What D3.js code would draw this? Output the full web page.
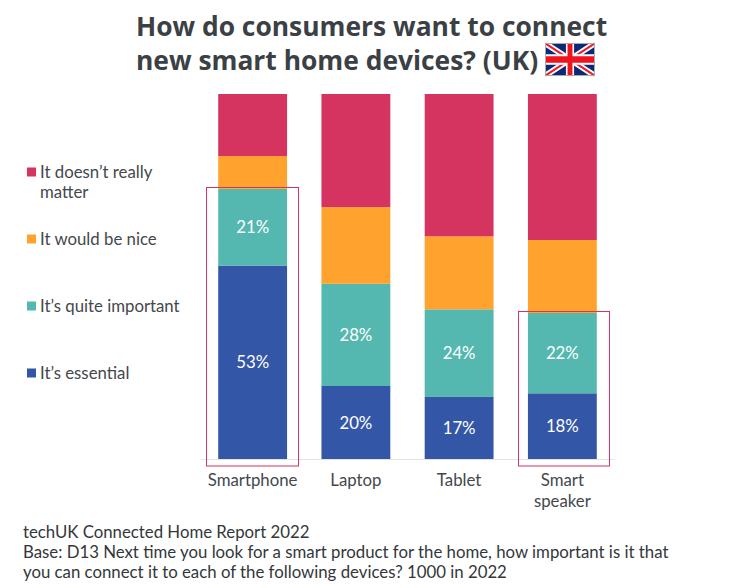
<!DOCTYPE html>
<html>
<meta charset="utf-8">
<style>
html, body { margin: 0; padding: 0; background: #fff; }
svg { display: block; }
text { font-family: Lato, sans-serif; }
.title { font-family: "Open Sans", sans-serif; font-weight: 700; font-size: 26.4px; fill: #3b4045; }
.axis-label, .legend-label { font-size: 16.8px; fill: #44484c; }
.value { font-size: 16.8px; fill: #fff; text-anchor: middle; }
.note { font-size: 16.8px; fill: #33373a; }
</style>
<body>
<script src="https://d3js.org/d3.v7.min.js"></script>
<script>
// values (percent)
var devices = ["Smartphone", "Laptop", "Tablet", "Smart speaker"];
var essential = [53, 20, 17, 18];
var quite = [21, 28, 24, 22];
var nice = [9, 21, 20, 20];
var noMatter = [17, 31, 39, 40];

var seriesNames = ["essential", "quite", "nice", "noMatter"];
var seriesLabels = [["It\u2019s essential"], ["It\u2019s quite important"], ["It would be nice"], ["It doesn\u2019t really", "matter"]];
var seriesColors = ["#3357a6", "#55b8b0", "#ffa32e", "#d53461"];
var highlighted = ["Smartphone", "Smart speaker"];
var titleLines = ["How do consumers want to connect", "new smart home devices? (UK)"];
var noteLines = ["techUK Connected Home Report 2022",
  "Base: D13 Next time you look for a smart product for the home, how important is it that",
  "you can connect it to each of the following devices? 1000 in 2022"];

var table = devices.map(function(d, i) {
  return {device: d, essential: essential[i], quite: quite[i], nice: nice[i], noMatter: noMatter[i]};
});

var svg = d3.select("body").append("svg").attr("width", 756).attr("height", 588);

// scales
var x = d3.scaleBand().domain(devices).range([201, 614]).paddingInner(0.333).paddingOuter(0.1667);
var y = d3.scaleLinear().domain([0, 100]).range([459, 94]);
var color = d3.scaleOrdinal().domain(seriesNames).range(seriesColors);
var stacked = d3.stack().keys(seriesNames)(table);

// title
svg.selectAll(".title").data(titleLines).enter().append("text")
  .attr("class", "title")
  .attr("x", 136)
  .attr("y", function(d, i) { return 36 + i * 33.5; })
  .text(function(d) { return d; });

// bars
var layers = svg.selectAll(".layer").data(stacked).enter().append("g")
  .attr("class", "layer")
  .attr("fill", function(d) { return color(d.key); });

layers.selectAll("rect").data(function(d) { return d; }).enter().append("rect")
  .attr("x", function(d) { return x(d.data.device); })
  .attr("width", x.bandwidth())
  .attr("y", function(d) { return y(d[1]); })
  .attr("height", function(d) { return y(d[0]) - y(d[1]); });

// only the two lower series carry labels
stacked.slice(0, 2).forEach(function(s) {
  svg.selectAll(".value-" + s.key).data(s).enter().append("text")
    .attr("class", "value value-" + s.key)
    .attr("x", function(d) { return x(d.data.device) + x.bandwidth() / 2; })
    .attr("y", function(d) { return (y(d[0]) + y(d[1])) / 2 + 6; })
    .text(function(d) { return (d[1] - d[0]) + "%"; });
});

// baseline
svg.append("line")
  .attr("x1", 201).attr("x2", 614)
  .attr("y1", y(0) + 0.5).attr("y2", y(0) + 0.5)
  .attr("stroke", "#e2e2e2");

// x labels
var labels = svg.selectAll(".axis-label").data(devices).enter().append("text")
  .attr("class", "axis-label")
  .attr("text-anchor", "middle")
  .attr("y", 486);
labels.each(function(d) {
  var words = d === "Smart speaker" ? d.split(" ") : [d];
  var t = d3.select(this);
  words.forEach(function(w, i) {
    t.append("tspan")
      .attr("x", x(d) + x.bandwidth() / 2)
      .attr("dy", i ? 21 : 0)
      .text(w);
  });
});

// red boxes round the highlighted devices, the two are not quite the same width
var boxPad = {"Smartphone": [11.5, 11.5], "Smart speaker": [9.5, 12.5]};
svg.selectAll(".hl").data(highlighted).enter().append("rect")
  .attr("class", "hl")
  .attr("x", function(d) { return Math.round(x(d)) - boxPad[d][0]; })
  .attr("width", function(d) { return Math.round(x.bandwidth()) + boxPad[d][0] + boxPad[d][1]; })
  .attr("y", function(d) {
    var i = devices.indexOf(d);
    return Math.round(y(essential[i] + quite[i])) - 1.5;
  })
  .attr("height", function(d) {
    var i = devices.indexOf(d);
    return 466 - Math.round(y(essential[i] + quite[i])) + 1.5;
  })
  .attr("fill", "none")
  .attr("stroke", "#d53461")
  .attr("stroke-width", 1);

// legend, top entry is the last series
var legendY = d3.scalePoint().domain(seriesNames.slice().reverse()).range([172, 373]);
var legend = svg.selectAll(".legend").data(seriesNames).enter().append("g")
  .attr("class", "legend")
  .attr("transform", function(d) { return "translate(27," + legendY(d) + ")"; });
legend.append("rect")
  .attr("y", -4.5).attr("width", 9).attr("height", 9)
  .attr("fill", function(d) { return color(d); });
legend.each(function(d, i) {
  var g = d3.select(this);
  seriesLabels[i].forEach(function(line, j) {
    g.append("text")
      .attr("class", "legend-label")
      .attr("x", 13)
      .attr("y", 6 + j * 20)
      .text(line);
  });
});

// footnote
svg.selectAll(".note").data(noteLines).enter().append("text")
  .attr("class", "note")
  .attr("x", 23)
  .attr("y", function(d, i) { return 538 + i * 20; })
  .text(function(d) { return d; });

// union flag, drawn in a 60x30 box and scaled
var flag = svg.append("g").attr("transform", "translate(545.5,43.5)");
var inner = flag.append("g").attr("transform", "scale(" + (49 / 60) + "," + (32 / 30) + ")");
inner.append("rect").attr("width", 60).attr("height", 30).attr("fill", "#0a2a78");
var diag = ["M0,0L60,30", "M60,0L0,30"];
inner.selectAll(".dw").data(diag).enter().append("path").attr("d", function(d) { return d; })
  .attr("stroke", "#fff").attr("stroke-width", 6);
inner.selectAll(".dr").data(diag).enter().append("path").attr("d", function(d) { return d; })
  .attr("stroke", "#ee1c25").attr("stroke-width", 2);
inner.append("path").attr("d", "M30,0V30M0,15H60").attr("stroke", "#fff").attr("stroke-width", 10);
inner.append("path").attr("d", "M30,0V30M0,15H60").attr("stroke", "#f0141e").attr("stroke-width", 6);
flag.append("rect").attr("width", 49).attr("height", 32).attr("fill", "none").attr("stroke", "#aaa");
</script>
</body>
</html>
